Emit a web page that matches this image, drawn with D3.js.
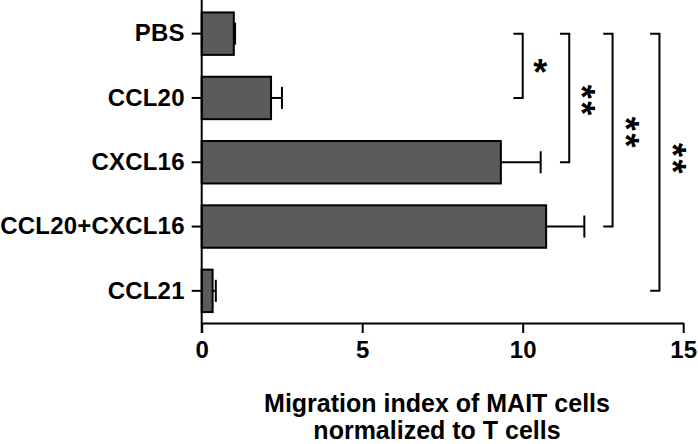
<!DOCTYPE html>
<html>
<head>
<meta charset="utf-8">
<script src="https://cdn.jsdelivr.net/npm/d3@7"></script>
<style>
  body { margin: 0; background: #fff; }
  svg { display: block; }
  text { font-family: "Liberation Sans", Arial, sans-serif; font-weight: bold; fill: #000; }
</style>
</head>
<body>
<svg id="chart" width="698" height="444"></svg>
<script>
// data
const categories = ["PBS", "CCL20", "CXCL16", "CCL20+CXCL16", "CCL21"];
const means = [1.0, 2.16, 9.32, 10.73, 0.34];
const errors = [0.04, 0.34, 1.24, 1.19, 0.1];
const xTicks = [0, 5, 10, 15];
const titleLines = ["Migration index of MAIT cells", "normalized to T cells"];

// significance brackets: from PBS to target, at x (data units)
const sigTargets = ["CCL20", "CXCL16", "CCL20+CXCL16", "CCL21"];
const sigX = [10.0, 11.45, 12.8, 14.26];
const sigLabels = ["*", "**", "**", "**"];

const svg = d3.select("#chart");
const x0 = 201.7, x1 = 683.2, yBottom = 323;

const x = d3.scaleLinear().domain([0, 15]).range([x0, x1]);
const y = d3.scaleBand().domain(categories).range([1.5, yBottom])
    .paddingInner(0.34).paddingOuter(0.17);

// bars
svg.selectAll(".bar").data(categories).enter().append("rect")
    .attr("class", "bar")
    .attr("x", x(0))
    .attr("y", d => y(d))
    .attr("width", (d, i) => x(means[i]) - x(0))
    .attr("height", y.bandwidth())
    .attr("fill", "#5b5b5b")
    .attr("stroke", "#000")
    .attr("stroke-width", 2);

// error bars
const capH = y.bandwidth() * 0.52;
categories.forEach((c, i) => {
    const cy = y(c) + y.bandwidth() / 2;
    svg.append("line")
        .attr("x1", x(means[i])).attr("x2", x(means[i] + errors[i]))
        .attr("y1", cy).attr("y2", cy)
        .attr("stroke", "#000").attr("stroke-width", 2);
    svg.append("line")
        .attr("x1", x(means[i] + errors[i])).attr("x2", x(means[i] + errors[i]))
        .attr("y1", cy - capH / 2).attr("y2", cy + capH / 2)
        .attr("stroke", "#000").attr("stroke-width", 2);
});

// x axis
const xAxis = svg.append("g")
    .attr("transform", `translate(0,${yBottom})`)
    .call(d3.axisBottom(x).tickValues(xTicks).tickSize(10).tickSizeOuter(0).tickPadding(8));
xAxis.select(".domain").attr("stroke-width", 2);
xAxis.selectAll(".tick line").attr("stroke-width", 2);
xAxis.selectAll("text").attr("font-size", 24).attr("fill", "#000")
    .style("font-family", "Liberation Sans, Arial, sans-serif").style("font-weight", "bold");

// y axis
const yAxis = svg.append("g")
    .attr("transform", `translate(${x0},0)`)
    .call(d3.axisLeft(y).tickSize(10).tickSizeOuter(0).tickPadding(7));
yAxis.select(".domain").remove();
yAxis.selectAll(".tick line").attr("stroke-width", 2);
yAxis.selectAll("text").attr("font-size", 24).attr("fill", "#000")
    .attr("letter-spacing", 0.2)
    .style("font-family", "Liberation Sans, Arial, sans-serif").style("font-weight", "bold");
svg.append("line")
    .attr("x1", x0).attr("x2", x0).attr("y1", 0).attr("y2", yBottom + 10)
    .attr("stroke", "#000").attr("stroke-width", 2);

// brackets
const armLen = 9.3;
const topY = y("PBS") + y.bandwidth() / 2;
sigTargets.forEach((t, i) => {
    const bx = x(sigX[i]);
    const by = y(t) + y.bandwidth() / 2;
    svg.append("path")
        .attr("d", `M${bx - armLen},${topY}H${bx}V${by}H${bx - armLen}`)
        .attr("fill", "none").attr("stroke", "#000").attr("stroke-width", 2);
    const midY = (topY + by) / 2;
    const lab = sigLabels[i];
    if (lab.length === 1) {
        svg.append("text")
            .attr("x", bx + 17.5)
            .attr("y", midY + 19)
            .attr("text-anchor", "middle")
            .attr("font-size", 36)
            .text(lab);
    } else {
        // stacked stars: rotated text, as in the original figure
        const cx = bx + 19 + i * 0.8;
        svg.append("text")
            .attr("transform", `translate(${cx},${midY + (i === 3 ? -4 : 2)}) rotate(90)`)
            .attr("x", 1.3)
            .attr("y", 20.5)
            .attr("text-anchor", "middle")
            .attr("letter-spacing", 2.6)
            .attr("font-size", 36)
            .text(lab);
    }
});

// axis title
svg.selectAll(".title").data(titleLines).enter().append("text")
    .attr("class", "title")
    .attr("x", 437)
    .attr("y", (d, i) => 412 + i * 27)
    .attr("text-anchor", "middle")
    .attr("font-size", 25)
    .text(d => d);
</script>
</body>
</html>
